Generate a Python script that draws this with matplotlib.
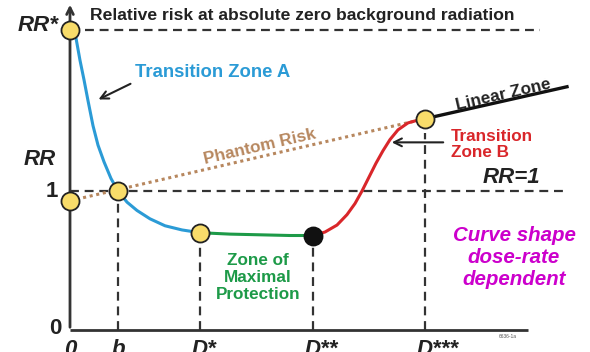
import matplotlib
matplotlib.use("Agg")
import matplotlib.pyplot as plt

plt.rcParams['font.family'] = ['Liberation Sans', 'DejaVu Sans']

# ---- data (schematic: dose in arbitrary units, relative risk RR) ----
x_ticks = [0.0, 0.48, 1.30, 2.43, 3.55]
x_tick_labels = ["0", "b", "D*", "D**", "D***"]
rr_star = 2.16
rr_zero_dose = 0.93

zone_a_x = [0.02, 0.06, 0.10, 0.14, 0.18, 0.23, 0.28, 0.34, 0.41, 0.48, 0.57, 0.67, 0.80, 0.95, 1.12, 1.30]
zone_a_y = [2.15, 2.10, 1.94, 1.80, 1.65, 1.47, 1.33, 1.21, 1.09, 1.00, 0.92, 0.86, 0.80, 0.75, 0.72, 0.70]

protect_x = [1.30, 1.60, 1.90, 2.20, 2.43]
protect_y = [0.70, 0.69, 0.685, 0.68, 0.68]

zone_b_x = [2.43, 2.55, 2.67, 2.77, 2.85, 2.92, 2.99, 3.06, 3.13, 3.20, 3.28, 3.38, 3.48, 3.55]
zone_b_y = [0.68, 0.705, 0.755, 0.83, 0.91, 1.00, 1.10, 1.20, 1.29, 1.37, 1.44, 1.49, 1.51, 1.52]

linear_x = [3.55, 4.97]
linear_y = [1.52, 1.75]

phantom_x = [0.0, 3.55]
phantom_y = [0.93, 1.52]

yellow_x = [0.0, 0.0, 0.48, 1.30, 3.55]
yellow_y = [2.16, 0.93, 1.00, 0.70, 1.52]
black_x = [2.43]
black_y = [0.68]

vline_tops = [1.00, 0.70, 0.68, 1.42]
vline_x = [0.48, 1.30, 2.43, 3.55]

BLUE = "#2b9bd6"
GREEN = "#1d9a48"
RED = "#d9262a"
BROWN = "#b7875e"
MAGENTA = "#cc00cc"
DARK = "#222222"

fig = plt.figure(figsize=(5.9, 3.52), dpi=100)
ax = fig.add_axes([0, 0, 1, 1])
ax.set_xlim(-0.70, 5.20)
ax.set_ylim(-0.158, 2.374)
ax.axis("off")

# axes
ax.plot([0, 4.58], [0, 0], color="#333333", lw=2.0, solid_capstyle="butt", zorder=2)
ax.annotate("", xy=(0, 2.36), xytext=(0, 0),
            arrowprops=dict(arrowstyle="->", color="#333333", lw=2.0, mutation_scale=12), zorder=2)

dash = (0, (4, 2.6))
# reference lines
ax.plot([0.15, 4.70], [rr_star, rr_star], color="#333333", lw=1.6, linestyle=dash, zorder=1)
ax.plot([0, 4.93], [1.0, 1.0], color="#333333", lw=1.6, linestyle=dash, zorder=1)
for vx, vt in zip(vline_x, vline_tops):
    ax.plot([vx, vx], [0, vt], color="#333333", lw=1.6, linestyle=dash, zorder=1)

# phantom risk
ax.plot(phantom_x, phantom_y, color=BROWN, lw=2.2, linestyle=(0, (1, 1.2)), zorder=2)

# curves
ax.plot(zone_a_x, zone_a_y, color=BLUE, lw=2.2, zorder=3)
ax.plot(protect_x, protect_y, color=GREEN, lw=2.2, zorder=3)
ax.plot(zone_b_x, zone_b_y, color=RED, lw=2.2, zorder=3)
ax.plot(linear_x, linear_y, color="#111111", lw=2.4, zorder=3)

# markers
ax.plot(yellow_x, yellow_y, "o", ms=13, mfc="#f8dc6a", mec="#222222", mew=1.3, zorder=5, linestyle="none")
ax.plot(black_x, black_y, "o", ms=13, mfc="#111111", mec="#111111", mew=1.3, zorder=5, linestyle="none")

# tick labels
for tx, tl in zip(x_ticks, x_tick_labels):
    if tl.startswith("D"):
        ax.text(tx - 0.085, -0.065, tl, ha="left", va="top", fontsize=16, fontweight="bold",
                style="italic", color=DARK)
    else:
        ax.text(tx, -0.065, tl, ha="center", va="top", fontsize=16, fontweight="bold",
                style="italic", color=DARK)

ax.text(-0.12, 2.19, "RR*", ha="right", va="center", fontsize=16, fontweight="bold", style="italic", color=DARK)
ax.text(-0.30, 1.23, "RR", ha="center", va="center", fontsize=16, fontweight="bold", style="italic", color=DARK)
ax.text(-0.12, 1.0, "1", ha="right", va="center", fontsize=16, fontweight="bold", color=DARK)
ax.text(-0.08, 0.01, "0", ha="right", va="center", fontsize=16, fontweight="bold", color=DARK)

# annotations
ax.text(0.20, 2.265, "Relative risk at absolute zero background radiation", ha="left", va="center",
        fontsize=12.6, fontweight="bold", color=DARK)
ax.text(0.65, 1.85, "Transition Zone A", ha="left", va="center", fontsize=13.3, fontweight="bold", color=BLUE)
ax.annotate("", xy=(0.26, 1.65), xytext=(0.63, 1.78),
            arrowprops=dict(arrowstyle="->", color="#222222", lw=1.5, mutation_scale=14))
ax.text(1.90, 1.32, "Phantom Risk", ha="center", va="center", fontsize=12.3, fontweight="bold",
        color=BROWN, rotation=13)
ax.text(4.33, 1.69, "Linear Zone", ha="center", va="center", fontsize=12.3, fontweight="bold",
        color="#222222", rotation=13)
ax.text(3.81, 1.335, "Transition\nZone B", ha="left", va="center", fontsize=12.3, fontweight="bold",
        color=RED, linespacing=1.08)
ax.annotate("", xy=(3.19, 1.35), xytext=(3.76, 1.35),
            arrowprops=dict(arrowstyle="->", color="#222222", lw=1.5, mutation_scale=14))
ax.text(4.41, 1.095, "RR=1", ha="center", va="center", fontsize=16, fontweight="bold",
        style="italic", color=DARK)
ax.text(1.88, 0.38, "Zone of\nMaximal\nProtection", ha="center", va="center", fontsize=12.3,
        fontweight="bold", color=GREEN, linespacing=1.15)
ax.text(4.44, 0.52, "Curve shape\ndose-rate\ndependent", ha="center", va="center", fontsize=14.8,
        fontweight="bold", style="italic", color=MAGENTA, linespacing=1.2)
ax.text(4.38, -0.05, "6636-1a", ha="center", va="center", fontsize=3.5, color="#555555")

fig.savefig("out.png", dpi=100)
